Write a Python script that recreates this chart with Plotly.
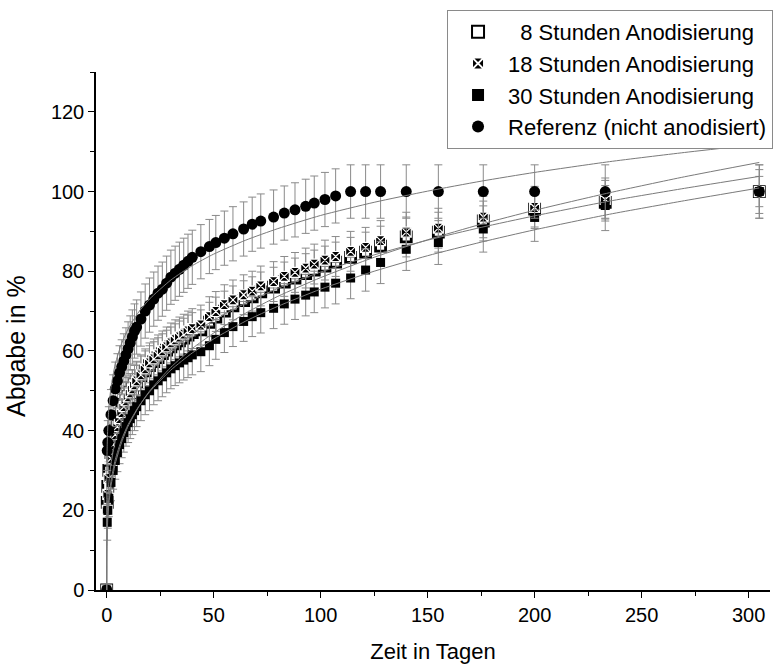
import plotly.graph_objects as go

# sampling times (days)
days = [0, 0.25, 0.5, 1, 2, 3, 4, 5, 6, 7, 8, 9, 10, 11, 12, 13, 14,
        16, 18, 20, 22, 24, 26, 28, 30, 32, 34, 36, 38, 40,
        44, 48, 51, 55, 59, 64, 68, 72, 78, 83, 88, 93, 97, 102, 107,
        114, 121, 128, 140, 155, 176, 200, 233, 305]

h8 = [0, 22, 26, 30, 34.5, 37.5, 40, 42, 43.5, 45, 46.5, 47.5, 48.5, 49.5, 50.5, 51.5, 52.3,
      53.8, 55, 56.3, 57.3, 58.3, 59.3, 60.2, 61, 61.8, 62.5, 63.2, 64, 64.6,
      65.3, 67.2, 68.5, 70, 71.3, 72.6, 73.6, 74.8, 76, 77.3, 78.3, 79.4, 80.3, 81.3, 82.3,
      83.5, 84.8, 86.3, 88.6, 89.8, 92.6, 95.6, 97.3, 100]
h8_err = [0, 4, 4, 4.2, 4.3, 4.4, 4.5, 4.5, 4.6, 4.6, 4.7, 4.7, 4.8, 4.8, 4.8, 4.9, 4.9,
          4.9, 5, 5, 5, 5, 5, 5, 5, 5, 5, 5, 5, 5,
          5, 5, 5, 5, 5, 5, 5, 5, 5, 5, 5, 5, 5, 5, 5,
          5, 5, 5, 5, 5, 5, 4.5, 4.2, 3.8]

h18 = [0, 20, 24, 28, 33, 36.5, 39, 41, 43, 44.5, 46, 47.5, 48.5, 49.5, 50.5, 51.5, 52.5,
       54, 55.5, 57, 58, 59, 60, 61, 62, 62.8, 63.5, 64.2, 65, 65.6,
       66.5, 68.6, 69.9, 71.6, 72.8, 74.1, 75, 76.3, 77.4, 78.7, 79.7, 80.8, 81.8, 82.8, 83.7,
       85, 86, 87.7, 89.8, 90.8, 93.6, 96, 98, 100]
h18_err = [0, 4, 4.1, 4.2, 4.3, 4.4, 4.5, 4.5, 4.6, 4.6, 4.7, 4.7, 4.8, 4.8, 4.8, 4.9, 4.9,
           5, 5, 5, 5, 5, 5, 5, 5, 5, 5, 5, 5, 5,
           5, 5, 5, 5, 5, 5, 5, 5, 5, 5, 5, 5, 5, 5, 5,
           5, 5, 5, 5, 5, 5.2, 5.3, 5.4, 5.5]

h30 = [0, 17, 20, 23, 27, 30, 32.5, 34.5, 36.5, 38, 39.5, 41, 42, 43, 44, 45, 46,
       47.5, 49, 50, 51.5, 52.5, 53.5, 54.5, 55.5, 56.3, 57, 57.7, 58.3, 59,
       59.8, 61.3, 62.9, 64.6, 66.1, 67.4, 68.6, 69.6, 70.7, 71.8, 73, 74, 74.8, 76, 77,
       78.3, 80.3, 82.2, 85.5, 87.2, 90.6, 93.5, 96.5, 100]
h30_err = [0, 4.5, 4.5, 4.6, 4.6, 4.7, 4.7, 4.8, 4.8, 4.8, 4.9, 4.9, 5, 5, 5, 5, 5,
           5, 5, 5, 5, 5, 5, 5, 5, 5, 5, 5, 5, 5,
           5, 5, 5, 5, 5, 5, 5, 5.1, 5.1, 5.1, 5.1, 5.2, 5.2, 5.2, 5.2,
           5.2, 5.3, 5.3, 5.3, 5.5, 5.8, 6, 6.3, 6.7]

ref = [0, 35, 37, 40, 44, 47.5, 50.5, 52.5, 54.5, 56, 57.5, 59, 60.5, 62, 63.5, 65, 66,
       68, 70, 71.5, 73, 74.5, 75.5, 77, 78.5, 79.5, 80.5, 81.5, 82.5, 83.5,
       84.9, 86.2, 87.2, 88.3, 89.4, 90.6, 91.8, 92.6, 93.6, 94.6, 95.4, 96.3, 97.1, 98, 98.9,
       100, 100, 100, 100, 100, 100, 100, 100, 100]
ref_err = [0, 5, 5.5, 6, 6.3, 6.5, 6.7, 6.8, 6.8, 6.8, 6.8, 6.8, 6.8, 6.8, 6.8, 6.8, 6.8,
           6.8, 6.8, 6.8, 6.8, 6.8, 6.8, 6.8, 6.8, 6.8, 6.8, 6.8, 6.8, 6.8,
           6.8, 6.8, 6.8, 6.8, 6.8, 6.8, 6.8, 6.8, 6.8, 6.8, 6.8, 6.8, 6.8, 6.8, 6.8,
           6.7, 6.7, 6.7, 6.7, 6.7, 6.7, 6.7, 6.7, 6.7]

# fitted curves
fit_x = [0, 0.05, 0.2, 0.5, 1, 2, 4, 7, 10, 15, 20, 30, 40, 50, 65, 80, 100,
         125, 150, 175, 200, 235, 270, 305]
fit_ref = [0, 28.5, 35.4, 40.9, 45.6, 50.8, 56.7, 61.9, 65.5, 69.8, 73.0, 77.8, 81.4, 84.3,
           87.8, 90.7, 94.0, 97.3, 100.1, 102.6, 104.8, 107.5, 109.8, 111.9]
fit_h30 = [0, 10.5, 15.0, 19.0, 22.8, 27.3, 32.7, 37.8, 41.5, 46.1, 49.7, 55.2, 59.5, 63.0,
           67.5, 71.2, 75.5, 80.0, 83.9, 87.3, 90.4, 94.3, 97.7, 100.9]
fit_h18 = [0, 9.3, 13.7, 17.7, 21.5, 26.1, 31.7, 37.1, 41.1, 46.0, 49.9, 55.9, 60.6, 64.5,
           69.5, 73.7, 78.4, 83.5, 87.9, 91.8, 95.3, 99.7, 103.7, 107.3]
fit_h8 = [0, 13.3, 18.4, 22.8, 26.9, 31.7, 37.3, 42.6, 46.3, 51.0, 54.6, 60.0, 64.2, 67.7,
          72.0, 75.7, 79.8, 84.1, 87.8, 91.0, 93.9, 97.6, 100.8, 103.8]

names = ["\u20078 Stunden Anodisierung", "18 Stunden Anodisierung",
         "30 Stunden Anodisierung", "Referenz (nicht anodisiert)"]

FONT = "Liberation Sans, Arial, sans-serif"
ERRC = "#8a8a8a"

fig = go.Figure()

def err(a):
    return dict(type="data", array=a, visible=True, color=ERRC, thickness=1, width=4)

fig.add_trace(go.Scatter(x=days, y=h8, mode="markers", name=names[0], error_y=err(h8_err),
                         marker=dict(symbol="square", size=10, color="white",
                                     line=dict(color="black", width=2.8))))
fig.add_trace(go.Scatter(x=days, y=h18, mode="markers", name=names[1], error_y=err(h18_err),
                         marker=dict(symbol="square-x", size=10, color="black",
                                     line=dict(color="white", width=1.2))))
fig.add_trace(go.Scatter(x=days, y=h30, mode="markers", name=names[2], error_y=err(h30_err),
                         marker=dict(symbol="square", size=9, color="black",
                                     line=dict(color="black", width=0))))
fig.add_trace(go.Scatter(x=days, y=ref, mode="markers", name=names[3], error_y=err(ref_err),
                         marker=dict(symbol="circle", size=11, color="black",
                                     line=dict(color="black", width=0))))

for fy in (fit_h8, fit_h18, fit_h30, fit_ref):
    fig.add_trace(go.Scatter(x=fit_x, y=fy, mode="lines", showlegend=False, hoverinfo="skip",
                             line=dict(color="#7a7a7a", width=1, shape="spline", smoothing=0.6)))

fig.update_layout(
    width=782, height=666,
    margin=dict(l=96, r=12, t=72, b=76, autoexpand=False),
    paper_bgcolor="white", plot_bgcolor="white",
    font=dict(family=FONT, size=20, color="black"),
    showlegend=True,
    legend=dict(x=1.0045, xanchor="right", y=1.1197, yanchor="top",
                bordercolor="#8a8a8a", borderwidth=1, bgcolor="white",
                font=dict(family=FONT, size=22, color="black"),
                itemsizing="constant", tracegroupgap=0, itemwidth=50),
    xaxis=dict(range=[-5, 310], showline=True, linecolor="black", linewidth=1.5,
               ticks="outside", ticklen=6, tickwidth=1.3, tickcolor="black",
               tickvals=[0, 50, 100, 150, 200, 250, 300], automargin=False,
               showgrid=False, zeroline=False,
               minor=dict(tickvals=[25, 75, 125, 175, 225, 275], ticks="outside",
                          ticklen=4, tickwidth=1.3, tickcolor="black", showgrid=False),
               title=dict(text="Zeit in Tagen", font=dict(size=22), standoff=19),
               tickfont=dict(size=20)),
    yaxis=dict(range=[0, 130], showline=True, linecolor="black", linewidth=1.5,
               ticks="outside", ticklen=6, tickwidth=1.3, tickcolor="black",
               tickvals=[0, 20, 40, 60, 80, 100, 120], automargin=False,
               showgrid=False, zeroline=False,
               minor=dict(tickvals=[10, 30, 50, 70, 90, 110, 130], ticks="outside",
                          ticklen=4, tickwidth=1.3, tickcolor="black", showgrid=False),
               tickfont=dict(size=20)),
    annotations=[dict(text="Abgabe in %", xref="paper", yref="paper",
                      x=-0.1187, y=0.471, xanchor="center", yanchor="middle",
                      textangle=-90, showarrow=False,
                      font=dict(family=FONT, size=25, color="black"))],
)

fig.write_html("out.html")
